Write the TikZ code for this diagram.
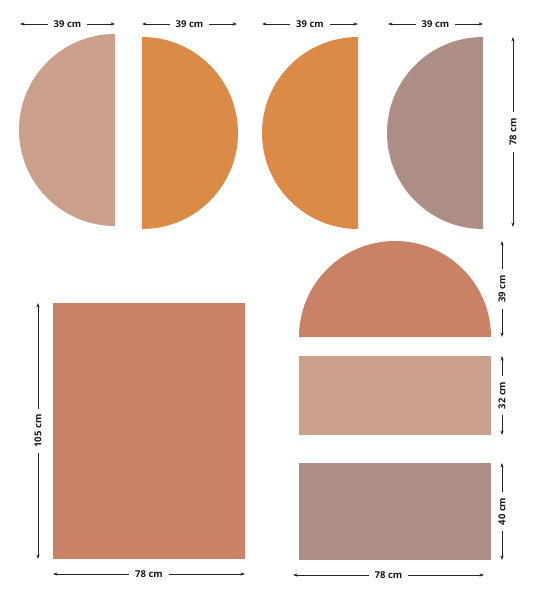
\documentclass[tikz,border=0pt]{standalone}
\usepackage{fontspec}
\setmainfont{Open Sans}
\usetikzlibrary{arrows.meta}
\definecolor{pinkc}{HTML}{CA9F8B}
\definecolor{orangec}{HTML}{DC8A48}
\definecolor{mauvec}{HTML}{AC8E84}
\definecolor{terrac}{HTML}{C98266}
\tikzset{
  dim/.style={{Stealth[length=4.5pt,width=3.2pt]}-{Stealth[length=4.5pt,width=3.2pt]}, line width=0.6pt, draw=black!85},
  lbl/.style={fill=white, inner xsep=6pt, inner ysep=1pt, font=\fontsize{9.5}{11}\selectfont\bfseries, text=black!90},
  vlbl/.style={lbl, rotate=90}
}
\begin{document}
\begin{tikzpicture}[x=1pt,y=-1pt]
\useasboundingbox (0,0) rectangle (535,600);
% shapes
\fill[pinkc] (115,34) arc[start angle=270,end angle=90,radius=96] -- cycle;
\fill[orangec] (142,37) arc[start angle=270,end angle=450,radius=96] -- cycle;
\fill[orangec] (358,37) arc[start angle=270,end angle=90,radius=96] -- cycle;
\fill[mauvec] (483,37) arc[start angle=270,end angle=90,radius=96] -- cycle;
\fill[terrac] (299,337) arc[start angle=180,end angle=360,radius=96] -- cycle;
\fill[pinkc] (299,356) rectangle (491,435);
\fill[mauvec] (299,463) rectangle (491,560);
\fill[terrac] (53,303) rectangle (245,559);
% dimension end points
\coordinate (t1a) at (20,24);  \coordinate (t1b) at (115,24);
\coordinate (t2a) at (142,24); \coordinate (t2b) at (237,24);
\coordinate (t3a) at (262,24); \coordinate (t3b) at (358,24);
\coordinate (t4a) at (388,24); \coordinate (t4b) at (483,24);
\coordinate (v1a) at (513,37); \coordinate (v1b) at (513,227);
\coordinate (v2a) at (502,241); \coordinate (v2b) at (502,337);
\coordinate (v3a) at (502,356); \coordinate (v3b) at (502,435);
\coordinate (v4a) at (502,463); \coordinate (v4b) at (502,560);
\coordinate (h1a) at (293,575); \coordinate (h1b) at (484,575);
\coordinate (v5a) at (38,303); \coordinate (v5b) at (38,559);
\coordinate (h2a) at (53,574); \coordinate (h2b) at (245,574);
% dimensions
\draw[dim] (t1a) -- node[lbl] (l1) {39 cm} (t1b);
\draw[dim] (t2a) -- node[lbl] (l2) {39 cm} (t2b);
\draw[dim] (t3a) -- node[lbl] (l3) {39 cm} (t3b);
\draw[dim] (t4a) -- node[lbl] (l4) {39 cm} (t4b);
\draw[dim] (v1a) -- node[vlbl] (l5) {78 cm} (v1b);
\draw[dim] (v2a) -- node[vlbl] (l6) {39 cm} (v2b);
\draw[dim] (v3a) -- node[vlbl] (l7) {32 cm} (v3b);
\draw[dim] (v4a) -- node[vlbl] (l8) {40 cm} (v4b);
\draw[dim] (h1a) -- node[lbl] (l9) {78 cm} (h1b);
\draw[dim] (v5a) -- node[vlbl] (l10) {105 cm} (v5b);
\draw[dim] (h2a) -- node[lbl] (l11) {78 cm} (h2b);
\end{tikzpicture}
\end{document}
